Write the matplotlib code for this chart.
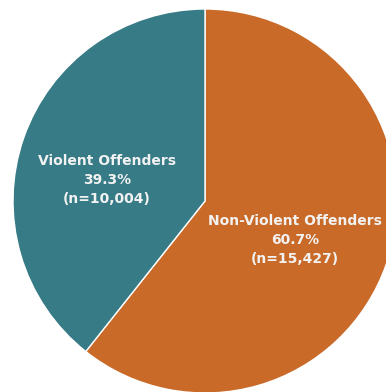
import matplotlib.pyplot as plt

labels = ['Non-Violent Offenders', 'Violent Offenders']
counts = [15427, 10004]
colors = ['#C96A29', '#367B86']

total = sum(counts)

fig = plt.figure(figsize=(3.86, 3.92), dpi=100)
ax = fig.add_axes([0, 0, 1, 1])

ax.pie(counts, colors=colors, startangle=90, counterclock=False,
       center=(205, 191), radius=192,
       wedgeprops=dict(edgecolor='white', linewidth=1.0))

# pie() resets the limits, so work in pixel units afterwards
ax.set_xlim(0, 386)
ax.set_ylim(0, 392)
ax.set_aspect('equal')
ax.axis('off')

# label positions (pixel coords, y up)
label_pos = [(295, 152), (107, 212)]
for lab, n, (x, y) in zip(labels, counts, label_pos):
    txt = f'{lab}\n{n / total * 100:.1f}%\n(n={n:,})'
    ax.text(x, y, txt, ha='center', va='center', color='#F2F2F2',
            fontsize=10, fontweight='bold', family='DejaVu Sans',
            linespacing=1.45)

fig.savefig('out.png', dpi=100)
